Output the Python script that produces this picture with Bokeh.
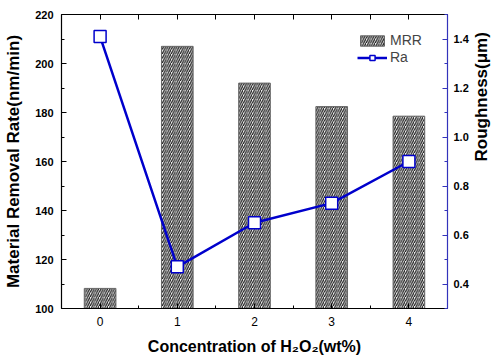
import math
from bokeh.plotting import figure
from bokeh.models import (Range1d, LinearAxis, FixedTicker, Legend, LegendItem,
                          ColumnDataSource, PrintfTickFormatter)
from bokeh.embed import file_html
from bokeh.resources import INLINE

# ---- data ----
concentration = [0, 1, 2, 3, 4]
mrr = [108.2, 207.0, 192.0, 182.4, 178.5]
ra = [1.41, 0.47, 0.65, 0.73, 0.90]

x_ticks = [0, 1, 2, 3, 4]
x_minor = [-0.5, 0.5, 1.5, 2.5, 3.5, 4.5]
mrr_ticks = [100, 120, 140, 160, 180, 200, 220]
mrr_minor = [110, 130, 150, 170, 190, 210]
ra_ticks = [0.4, 0.6, 0.8, 1.0, 1.2, 1.4]
ra_minor = [0.3, 0.5, 0.7, 0.9, 1.1, 1.3, 1.5]

FONT = "Liberation Sans"
BLUE = "#0000cc"
AXBLUE = "#3333bb"

src = ColumnDataSource(dict(x=concentration, mrr=mrr, ra=ra))

p = figure(width=503, height=362, output_backend="svg", toolbar_location=None,
           x_range=Range1d(-0.5, 4.5), y_range=Range1d(100, 220),
           min_border_left=61, min_border_right=55, min_border_top=14, min_border_bottom=54,
           x_axis_location=None, y_axis_location=None)
p.extra_y_ranges = {"ra": Range1d(0.3, 1.5)}
p.grid.visible = False
p.outline_line_color = None
p.background_fill_color = "white"
p.border_fill_color = "white"


def style(ax, color="black", bold_labels=True, size="11px"):
    ax.axis_line_color = color
    ax.axis_line_width = 1.2
    ax.major_tick_line_color = color
    ax.minor_tick_line_color = color
    ax.major_tick_in = 5
    ax.major_tick_out = 0
    ax.minor_tick_in = 3
    ax.minor_tick_out = 0
    ax.major_label_text_font = FONT
    ax.major_label_text_font_size = size
    ax.major_label_text_font_style = "bold" if bold_labels else "normal"
    ax.major_label_text_color = "black"
    ax.axis_label_text_font = FONT
    ax.axis_label_text_font_style = "bold"
    ax.axis_label_text_font_size = "17px"
    ax.axis_label_text_color = "black"


xb = LinearAxis(ticker=FixedTicker(ticks=x_ticks, minor_ticks=x_minor),
                axis_label="Concentration of H\u2082O\u2082(wt%)")
style(xb, bold_labels=False, size="12px")
xb.axis_label_text_font_size = "16px"
xb.major_label_standoff = 8
xb.axis_label_standoff = 9
p.add_layout(xb, "below")

# top frame line with tick marks only (no labels)
xt = LinearAxis(ticker=FixedTicker(ticks=[], minor_ticks=x_ticks + x_minor))
style(xt)
xt.minor_tick_in = 5
p.add_layout(xt, "above")

yl = LinearAxis(ticker=FixedTicker(ticks=mrr_ticks, minor_ticks=mrr_minor),
                axis_label="Material Removal Rate(nm/min)")
style(yl)
yl.major_label_standoff = 8
yl.axis_label_standoff = 9
p.add_layout(yl, "left")

yr = LinearAxis(y_range_name="ra", ticker=FixedTicker(ticks=ra_ticks, minor_ticks=ra_minor),
                axis_label="Roughness(\u03bcm)", formatter=PrintfTickFormatter(format="%.1f"))
style(yr, color=AXBLUE)
yr.major_label_standoff = 6
yr.axis_label_standoff = 10
yr.axis_label_orientation = math.pi / 2
p.add_layout(yr, "right")

bars = p.vbar(x="x", top="mrr", bottom=100, width=0.41, source=src,
              fill_color="#f2f2f2", line_color="#666666", line_width=1,
              hatch_pattern="/", hatch_color="#1a1a1a", hatch_scale=4.5, hatch_weight=1.2)

line = p.line(x="x", y="ra", source=src, y_range_name="ra", line_color=BLUE, line_width=2.5)
pts = p.scatter(x="x", y="ra", source=src, y_range_name="ra", marker="square", size=12,
                fill_color="white", line_color=BLUE, line_width=1.5)

legend = Legend(items=[LegendItem(label="MRR", renderers=[bars]),
                       LegendItem(label="Ra", renderers=[line, pts])],
                location=(296, 243))
legend.background_fill_alpha = 0
legend.border_line_color = None
legend.label_text_font = FONT
legend.label_text_font_size = "14px"
legend.glyph_width = 30
legend.glyph_height = 13
legend.padding = 0
legend.spacing = 1
legend.label_standoff = 3
legend.margin = 0
p.add_layout(legend, "center")

open("out.html", "w").write(file_html(p, INLINE))
